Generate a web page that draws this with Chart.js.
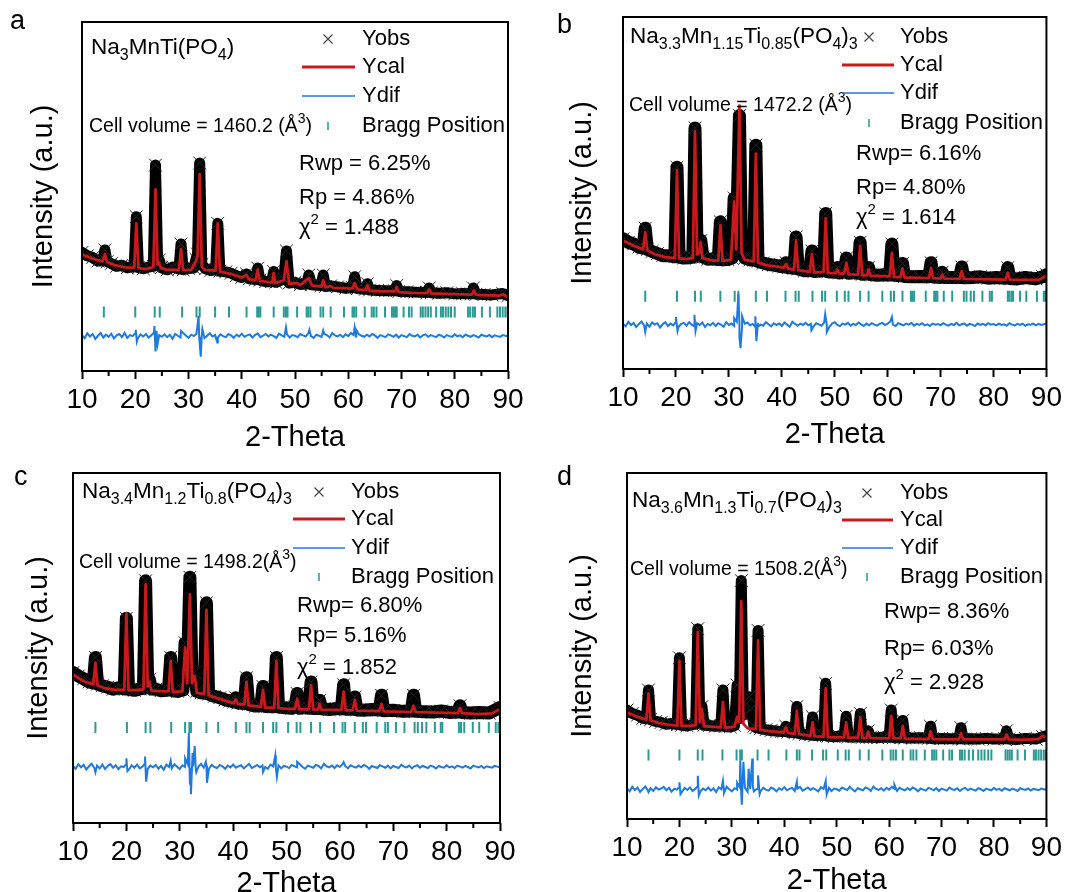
<!DOCTYPE html>
<html>
<head>
<meta charset="utf-8">
<script src="https://cdn.jsdelivr.net/npm/chart.js@4.4.1/dist/chart.umd.min.js"></script>
<style>
  html, body { margin: 0; padding: 0; background: #fff; overflow: hidden; }
  #wrap { position: relative; width: 1066px; height: 892px; }
  canvas { position: absolute; }
</style>
</head>
<body>
<div id="wrap">
  <canvas id="ca" width="533" height="470" style="left:0;top:0"></canvas>
  <canvas id="cb" width="533" height="470" style="left:533px;top:0"></canvas>
  <canvas id="cc" width="533" height="470" style="left:0;top:446px"></canvas>
  <canvas id="cd" width="533" height="470" style="left:533px;top:446px"></canvas>
</div>
<script>
// 2-theta axis
const xMin = 10, xMax = 90;
const minorTicks = [15, 25, 35, 45, 55, 65, 75, 85];
// difference curves are sampled every 0.5 deg from 10 to 90
const difStart = 10, difStep = 0.5;

// ---------- panel a : Na3MnTi(PO4) ----------
const calA = [[10,33.4],[12,32.2],[13.9,31.4],[14.3,33.5],[14.7,31.2],[16,30.4],[18,29.7],[19.8,29.6],[20.2,42.3],[20.6,29.5],[22,29.2],[23.4,29.8],[23.8,52],[24.2,30.5],[24.5,31],[24.8,29.5],[26,29],[28.2,29],[28.6,35],[29,28.9],[30.5,29],[31.4,31.5],[31.7,33],[32.1,56.4],[32.5,30],[33,29],[35.1,28.8],[35.5,42.3],[35.9,28.5],[37.4,28],[38,27.8],[40,26.8],[40.9,27.5],[41.3,26.3],[42.6,26],[43,29],[43.4,25.8],[45.7,25.3],[46,28],[46.3,25.2],[47.9,26],[48.4,31.5],[48.9,25],[50.4,25.2],[51,24.6],[52.6,26.6],[53.2,24.5],[55,24.2],[55.3,26],[55.7,24],[56.7,24.3],[57.2,23.8],[60.8,23.6],[61.2,25.2],[61.7,23.4],[63.3,23.2],[63.6,24.5],[64,23],[66,22.8],[68.8,22.8],[69.1,24],[69.5,22.6],[72,22.4],[74.8,22.3],[75.2,23.3],[75.6,22.2],[80,22],[83.2,21.9],[83.6,23],[84,21.8],[86,21.7],[88.5,21.6],[89,22],[90,21.2]];
const obsA = [[10,34],[11,33],[12,32.5],[13,31.5],[13.9,31.6],[14.3,34.7],[14.7,31.3],[15.5,30.8],[16.5,30],[17.5,30.3],[18.5,29.6],[19.8,29.9],[20.2,44.2],[20.6,29.6],[21.5,29.3],[22.5,29.8],[23.4,30],[23.8,59],[24.2,31],[24.5,31.8],[24.9,29.6],[26,29],[27,29.8],[28.2,29.2],[28.6,36.4],[29,29],[30,29.4],[31,29.5],[31.4,32],[31.7,33.5],[32.1,59.6],[32.5,30.5],[33.2,29.3],[34.2,28.8],[35.1,29],[35.5,42.3],[35.9,28.6],[37,28.4],[38,28],[39,27.3],[40,26.8],[40.9,27.8],[41.4,26.4],[42.6,26.2],[43,29.5],[43.4,26],[44.5,25.6],[45.6,25.6],[46,28.5],[46.4,25.4],[47.9,26.4],[48.4,34.4],[48.9,25.2],[50,25.4],[51,24.8],[52.2,25],[52.6,27.5],[53.1,24.7],[54.9,24.5],[55.3,27.5],[55.7,24.2],[56.7,24.4],[58,24.1],[59.5,23.7],[60.8,23.9],[61.2,27],[61.7,23.6],[63.2,23.4],[63.6,25],[64,23.2],[65.5,23.1],[67,23],[68.7,23],[69.1,24.5],[69.5,22.8],[71,22.7],[72.5,22.6],[74.8,22.5],[75.2,23.8],[75.6,22.4],[77,22.3],[78.5,22.4],[80,22.1],[81.5,22.2],[83.1,22.1],[83.5,23.8],[84,22],[85.5,21.9],[87,21.8],[89,22.2],[90,21.6]];
const difA = [10.3,9.4,10.8,9.9,10.6,9.2,10.1,10.9,9.6,10.4,9.8,10.7,9.3,10.2,10.6,9.7,10.9,9.5,10.3,10.0,
  10.8,9.4,10.5,9.9,10.6,9.6,10.2,11.0,9.5,10.3,9.8,10.5,9.7,10.4,9.2,10.6,10.1,9.6,10.9,10.2,
  9.5,10.4,10.0,10.7,9.8,10.3,9.4,10.1,10.8,9.9,10.3,9.6,10.5,10.0,9.7,10.6,10.2,9.5,10.4,9.9,
  10.7,9.8,10.2,10.5,9.6,10.3,10.8,9.7,10.1,10.6,9.9,10.4,10.0,9.5,10.7,10.2,9.8,10.5,9.6,10.3,
  10.1,9.7,10.6,10.2,9.9,10.8,10.0,9.5,10.4,10.1,9.8,10.6,10.3,9.6,10.9,10.2,9.9,10.4,9.7,10.5,
  10.0,10.9,10.3,9.6,10.5,10.1,9.8,10.4,9.9,10.6,10.2,9.5,10.3,10.0,9.7,10.5,10.2,9.8,10.4,9.6,
  10.3,10.0,9.7,10.6,10.1,9.9,10.4,9.6,10.2,10.5,9.8,10.3,10.0,9.7,10.4,10.1,9.6,10.3,10.0,9.8,
  10.5,9.9,10.2,9.7,10.4,10.1,9.8,10.3,10.0,9.6,10.4,10.1,9.9,10.3,9.7,10.2,10.0,9.8,10.3,10.1,
  9.9];
const spikesA = [[20.1,11.8],[20.3,8.4],[23.6,12.9],[23.8,5.6],[24.0,11.5],[24.2,7.8],[28.6,11.5],[31.9,15.8],[32.1,8],[32.3,4.1],[32.6,12],[35.4,8.2],[48.3,12.5],[52.7,11.8],[55.3,11.6],[61.2,12.5],[61.5,11.8]];
const braggA = [14.1,20.0,23.65,24.6,28.8,31.5,32.1,35.0,37.6,40.9,42.9,43.2,43.5,46.0,47.9,48.3,48.6,50.4,52.2,52.5,52.9,54.8,55.3,56.7,59.2,60.8,61.1,61.5,63.1,64.4,64.8,65.3,66.9,68.2,68.5,68.8,69.1,70.4,71.4,71.9,73.6,74.0,74.5,75.0,75.5,76.5,77.4,77.8,78.3,78.8,79.3,80.0,82.5,82.9,83.4,83.8,85.1,86.6,88.0,88.5,89.0,89.5,89.9];
const braggLevelA = 16.9;

// ---------- panel b : Na3.3Mn1.15Ti0.85(PO4)3 ----------
const calB = [[10,36.5],[12,35],[13.8,34],[14.2,38.9],[14.6,33.7],[16,32.6],[18,31.8],[19.8,31.5],[20.2,56.4],[20.6,31.4],[22,31.2],[23.2,31.5],[23.6,67.5],[24.0,32.5],[24.4,33],[24.7,36],[25.0,31.5],[27,30.8],[28.0,30.8],[28.4,40.9],[28.8,30.7],[30.4,31],[31.0,47.6],[31.4,34],[32.0,74.8],[32.4,33],[33,31],[34.7,30.6],[35.1,61.2],[35.5,30.3],[37,29.5],[40.4,28.8],[40.8,29.8],[41.2,28.5],[42.3,28.2],[42.7,36.5],[43.1,28.1],[45.3,27.6],[45.7,32.6],[46.1,27.4],[47.9,27.6],[48.3,42.8],[48.7,27.3],[50.2,27.2],[50.5,28.2],[50.9,27],[51.8,27.2],[52.2,30.2],[52.6,26.9],[54.4,26.8],[54.8,35],[55.2,26.6],[56.1,26.6],[56.4,28.3],[56.8,26.5],[60.4,26.3],[60.8,33],[61.2,26.2],[62.4,26.1],[62.8,28.6],[63.2,26],[67.8,25.8],[68.2,28.7],[68.6,25.8],[70,25.7],[70.3,26.8],[70.7,25.7],[73.6,25.6],[74.0,27.8],[74.4,25.6],[82.3,25.4],[82.7,27.3],[83.1,25.4],[86,25.3],[88.5,25.3],[89.3,25.9],[90,26.5]];
const obsB = [[10,37],[11,36],[12,35.5],[13,34.6],[13.8,34.3],[14.2,40],[14.6,34],[15.5,33.4],[16.5,32.8],[17.5,32.2],[18.5,32.2],[19.8,31.9],[20.2,57.3],[20.6,31.8],[21.5,31.5],[22.5,31.6],[23.2,31.8],[23.6,68.5],[24.0,33],[24.4,33.5],[24.7,36.5],[25.1,31.8],[26,31.2],[27,31.3],[28.0,31.1],[28.4,41.8],[28.8,31],[29.8,31.1],[30.6,31.5],[31.0,48.6],[31.4,35],[32.0,72],[32.4,34],[33,31.5],[34,31],[34.7,31],[35.1,63.6],[35.5,30.6],[36.5,30.1],[37.5,29.7],[38.5,29.5],[39.5,29.2],[40.4,29],[40.8,30.2],[41.2,28.8],[42.3,28.6],[42.7,37.5],[43.1,28.4],[44.3,27.9],[45.3,28],[45.7,33.5],[46.1,27.7],[47.9,28],[48.3,44.2],[48.7,27.6],[50.1,27.5],[50.5,28.8],[50.9,27.3],[51.8,27.6],[52.2,31.5],[52.6,27.2],[53.5,27.4],[54.4,27.2],[54.8,36],[55.2,26.9],[56.1,27],[56.4,28.8],[56.8,26.8],[58,26.6],[59.3,26.8],[60.4,26.7],[60.8,35.5],[61.2,26.6],[62.4,26.5],[62.8,30],[63.2,26.3],[64.5,26.2],[66,26.3],[67.8,26.2],[68.2,30.2],[68.6,26.1],[70,26],[70.3,27.5],[70.7,26],[72,26],[73.6,26],[74,29],[74.4,25.9],[76,26],[77.5,26.2],[79,25.8],[80.5,26],[82.3,25.8],[82.7,28.8],[83.1,25.7],[84.5,25.6],[86,26],[88,25.6],[89.3,26.2],[90,26.8]];
const difB = [12.9,12.1,13.4,12.5,13.1,11.9,12.8,13.5,12.3,12.9,12.0,13.2,12.6,13.0,11.8,12.7,13.3,12.2,12.9,12.4,
  13.4,12.0,12.8,13.1,12.3,13.3,12.6,12.1,13.0,12.5,13.2,11.9,12.8,12.4,13.1,12.2,13.0,12.6,12.0,13.3,
  12.5,12.9,12.2,13.4,12.7,12.1,12.9,13.2,12.4,12.8,11.9,13.1,12.6,12.3,13.3,12.7,12.1,13.0,12.5,12.9,
  12.2,13.2,12.6,12.0,13.4,12.8,12.3,12.9,12.5,13.1,12.4,12.8,12.1,13.0,12.7,12.3,13.2,12.6,12.0,12.9,
  13.3,12.5,12.2,12.9,12.6,13.1,12.3,12.8,12.5,13.2,12.7,12.2,12.9,12.4,13.0,12.6,12.3,12.8,13.1,12.5,
  12.9,13.5,12.6,12.2,13.0,12.7,12.4,12.9,12.6,13.1,12.3,12.8,12.5,13.0,12.4,12.7,12.2,12.9,12.6,12.8,
  12.4,13.0,12.6,12.3,12.8,12.5,13.1,12.4,12.7,12.9,12.3,12.8,12.6,12.2,12.9,12.5,12.8,12.4,13.0,12.6,
  12.8,12.4,12.9,12.5,12.7,12.3,13.0,12.6,12.4,12.8,12.5,12.9,12.3,12.7,12.6,12.9,12.4,12.8,12.5,12.7,
  12.9];
const spikesB = [[14.2,10.5],[20.0,14.8],[20.3,10.8],[23.5,15.4],[23.7,10.8],[31.0,14.5],[31.8,21.4],[32.0,9],[32.2,5.9],[32.5,15],[35.0,15],[35.2,7.9],[35.5,12],[45.6,11],[48.2,15.6],[48.5,10.5],[60.8,14.8]];
const braggB = [14.2,20.2,23.6,24.7,28.4,31.1,31.8,35.1,37.2,40.7,42.6,43.2,45.8,47.6,48.2,50.4,51.9,52.6,54.8,56.4,59.0,60.6,61.2,62.8,64.4,64.7,65.0,67.2,68.8,69.1,69.4,70.6,72.2,74.4,74.9,75.7,76.3,77.9,79.3,79.7,82.7,83.0,83.4,83.7,85.0,86.2,88.2,89.5,89.8];
const braggLevelB = 20.7;

// ---------- panel c : Na3.4Mn1.2Ti0.8(PO4)3 ----------
const calC = [[10,42.4],[12,40.5],[13.8,39.6],[14.2,45.8],[14.6,39.3],[16,38.5],[18,38],[19.6,38],[20.0,59.9],[20.4,37.9],[22,38],[23.2,38.2],[23.6,68.2],[24.0,39],[24.3,40.4],[24.7,37.8],[26,37.7],[27.9,37.6],[28.3,46.3],[28.7,37.5],[30.5,37.6],[31.0,50.2],[31.4,40],[31.9,65.3],[32.3,40],[32.8,42],[33.2,37.2],[34.6,36.8],[35.0,60.9],[35.4,36.5],[37,35.7],[40.1,34.2],[40.5,35.3],[40.9,34],[42.1,33.8],[42.5,40.4],[42.9,33.6],[45.2,33.2],[45.6,38],[46,33],[47.7,32.9],[48.1,46.3],[48.5,32.8],[50,32.6],[51.6,32.6],[52.0,35.5],[52.4,32.5],[54.2,32.5],[54.6,39.4],[55,32.4],[55.9,32.4],[56.2,34.1],[56.6,32.3],[60.3,32.3],[60.7,37.5],[61.1,32.2],[62.4,32.2],[62.8,35.2],[63.2,32.1],[67.4,32],[67.8,34],[68.2,31.9],[73.4,31.7],[73.8,33.5],[74.2,31.7],[82.1,31.4],[82.5,32.8],[82.9,31.4],[86,31.1],[88.5,31.3],[90,32.6]];
const obsC = [[10,43],[11,42],[12,41.2],[13,40.3],[13.8,40],[14.2,47.3],[14.6,39.7],[15.5,39.2],[16.5,38.8],[17.5,38.2],[18.5,38.6],[19.6,38.3],[20.0,58.5],[20.4,38.2],[21.5,37.9],[22.5,38.3],[23.2,38.5],[23.6,69.2],[24.0,39.5],[24.3,41],[24.7,38.3],[25.5,38.2],[26.5,37.8],[27.9,38],[28.3,47.3],[28.7,37.8],[29.6,37.6],[30.6,38],[31.0,51.5],[31.4,41],[31.9,70.2],[32.3,41],[32.8,43],[33.2,37.6],[34,37.2],[34.6,37.1],[35.0,62.9],[35.4,36.8],[36.5,36.2],[37.5,35.8],[38.5,35.2],[39.4,34.9],[40.1,34.6],[40.5,35.8],[40.9,34.3],[42.1,34.1],[42.5,41.5],[42.9,33.9],[44.2,33.4],[45.2,33.5],[45.6,39],[46,33.3],[47.7,33.2],[48.1,47.3],[48.5,33.1],[49.8,32.9],[51,32.8],[51.6,33.2],[52.0,37],[52.4,32.8],[53.4,33],[54.2,32.8],[54.6,40.3],[55,32.7],[55.9,32.7],[56.2,35],[56.6,32.6],[58,32.4],[59.3,32.7],[60.3,32.6],[60.7,39.5],[61.1,32.5],[62.4,32.5],[62.8,36],[63.2,32.3],[64.5,32.2],[66,32.4],[67.4,32.3],[67.8,36.5],[68.2,32.1],[70,32.2],[71.8,31.9],[73.4,32],[73.8,36.5],[74.2,31.9],[76,31.8],[77.5,31.7],[79,32],[80.5,31.6],[82.1,31.7],[82.5,33.5],[82.9,31.6],[84.5,31.4],[86,31.6],[88,31.4],[90,33]];
const difC = [16.3,15.5,16.8,15.9,16.6,15.3,16.2,16.9,15.7,16.4,15.6,16.7,15.4,16.3,16.8,15.8,16.5,15.4,16.2,16.0,
  16.9,15.3,16.5,15.8,16.7,15.6,16.1,17.0,15.5,16.4,15.9,16.6,15.5,16.3,15.2,16.7,16.0,15.6,16.8,16.1,
  15.4,16.5,16.0,16.8,15.7,16.2,15.4,16.1,16.9,15.8,16.4,15.6,16.6,16.0,15.7,16.6,16.2,15.5,16.4,15.9,
  16.7,15.8,16.2,16.5,15.6,16.3,16.9,15.7,16.1,16.6,15.9,16.4,16.0,15.5,16.7,16.2,15.8,16.5,15.6,16.3,
  16.1,15.7,16.6,16.2,15.9,16.8,16.0,15.5,16.4,16.1,15.8,16.6,16.3,15.6,16.9,16.2,15.9,16.4,15.7,16.5,
  16.0,16.8,16.3,15.6,16.5,16.1,15.8,16.4,15.9,16.6,16.2,15.5,16.3,16.0,15.7,16.5,16.2,15.8,16.4,15.6,
  16.3,16.0,15.7,16.6,16.1,15.9,16.4,15.6,16.2,16.5,15.8,16.3,16.0,15.7,16.4,16.1,15.6,16.3,16.0,15.8,
  16.5,15.9,16.2,15.7,16.4,16.1,15.8,16.3,16.0,15.6,16.4,16.1,15.9,16.3,15.7,16.2,16.0,15.8,16.3,16.1,
  15.9];
const spikesC = [[14.2,14.5],[20.0,18.5],[20.2,14.8],[23.5,19],[23.7,11.8],[28.3,17.8],[31.0,18.5],[31.7,25.8],[31.9,11],[32.1,8.2],[32.4,20],[32.8,22],[33.1,14.5],[34.9,17.5],[35.1,11.5],[35.4,14.8],[45.6,14.6],[47.9,19.3],[48.2,13.2],[52.0,17.5],[60.7,17.4]];
const braggC = [14.2,20.1,23.6,24.5,28.4,31.0,31.8,32.1,35.0,37.2,40.5,42.5,43.1,45.6,47.5,48.1,50.3,51.9,52.6,54.6,56.3,58.9,60.5,61.0,62.8,64.3,64.9,66.9,68.5,69.0,70.5,72.1,74.0,74.6,75.4,76.2,77.8,78.9,79.2,82.3,82.7,83.3,84.9,86.1,87.9,89.2,89.7];
const braggLevelC = 27.3;

// ---------- panel d : Na3.6Mn1.3Ti0.7(PO4)3 ----------
const calD = [[10,30.8],[12,29.5],[13.7,28.7],[14.1,36.3],[14.5,28.5],[16,27.8],[18,27.2],[19.6,27],[20.0,45.7],[20.4,26.9],[22,26.9],[23.1,27.1],[23.5,54.1],[23.9,28],[24.3,31.8],[24.7,26.8],[26,26.7],[27.9,26.5],[28.3,33.8],[28.7,26.4],[30.5,26.6],[31.0,29.5],[31.4,28],[31.8,62.9],[32.2,27.5],[33,26.2],[34.6,26],[35.0,51.6],[35.4,25.8],[37,25.4],[39.9,25],[40.3,26.5],[40.7,24.9],[42.0,24.6],[42.4,31.3],[42.8,24.5],[45.0,24],[45.4,27.9],[45.8,23.9],[47.5,23.8],[47.9,37.8],[48.3,23.7],[50,23.6],[51.4,23.6],[51.8,27.9],[52.2,23.5],[54.1,23.5],[54.5,29.4],[54.9,23.4],[55.7,23.4],[56,25.2],[56.4,23.4],[60,23.3],[60.4,29.8],[60.8,23.3],[62.2,23.3],[62.6,26.9],[63,23.2],[67.5,23.1],[67.9,25.4],[68.3,23.1],[73.3,23],[73.7,24.9],[74.1,23],[82,23],[82.4,24.4],[82.8,23],[86,22.9],[88.5,23.1],[89.3,24],[90,23.6]];
const obsD = [[10,31.5],[11,30.5],[12,30],[13,29.1],[13.7,29],[14.1,37.3],[14.5,28.7],[15.5,28.2],[16.5,27.9],[17.5,27.4],[18.5,27.6],[19.6,27.3],[20.0,46.6],[20.4,27.1],[21.5,26.9],[22.5,27.3],[23.1,27.4],[23.5,55],[23.9,28.5],[24.3,32.5],[24.7,27.1],[25.7,27],[26.8,26.8],[27.9,26.9],[28.3,37.3],[28.7,26.7],[29.7,26.6],[30.5,27],[31.0,38.7],[31.4,29],[31.8,68.9],[32.2,30],[32.6,33],[33.3,35.3],[33.8,32],[34.2,26.8],[34.6,26.4],[35.0,54.5],[35.4,26.1],[36.5,25.8],[37.5,25.6],[38.5,25.4],[39.5,25.3],[39.9,25.3],[40.3,26.8],[40.7,25.1],[42.0,24.9],[42.4,32.5],[42.8,24.7],[44,24.4],[45.0,24.3],[45.4,29.5],[45.8,24.1],[47.5,24.1],[47.9,39.2],[48.3,23.9],[49.5,23.8],[50.5,23.9],[51.4,23.9],[51.8,29.7],[52.2,23.7],[53.3,23.8],[54.1,23.7],[54.5,30.5],[54.9,23.6],[55.7,23.6],[56,25.5],[56.4,23.6],[57.8,23.5],[59,23.7],[60,23.6],[60.4,31.5],[60.8,23.5],[62.2,23.5],[62.6,28.5],[63,23.4],[64.5,23.4],[66,23.5],[67.5,23.3],[67.9,26.8],[68.3,23.2],[70,23.3],[71.7,23.2],[73.3,23.2],[73.7,26.4],[74.1,23.1],[75.5,23.2],[77,23.1],[78.5,23.3],[80,23.1],[82,23.2],[82.4,25.5],[82.8,23.1],[84.5,23],[86,23.3],[88,23.1],[89.3,23.8],[90,24]];
const difD = [8.8,8.0,9.3,8.4,9.1,7.8,8.7,9.4,8.2,8.9,8.1,9.2,8.5,8.8,9.3,8.3,9.0,7.9,8.7,8.5,
  9.3,7.9,9.0,8.4,9.1,8.1,8.7,9.5,8.0,8.8,8.3,9.1,8.2,8.9,7.8,9.2,8.6,8.1,9.3,8.6,
  8.0,8.9,8.5,9.2,8.3,8.8,7.9,8.6,9.3,8.4,8.8,8.1,9.0,8.5,8.2,9.1,8.7,8.0,8.9,8.4,
  9.2,8.3,8.7,9.0,8.1,8.8,9.3,8.2,8.6,9.1,8.4,8.9,8.5,8.0,9.2,8.7,8.3,9.0,8.1,8.8,
  8.6,8.2,9.1,8.7,8.4,9.3,8.5,8.0,8.9,8.6,8.3,9.1,8.8,8.1,9.4,8.7,8.4,8.9,8.2,9.0,
  8.5,9.3,8.8,8.1,9.0,8.6,8.3,8.9,8.4,9.1,8.7,8.0,8.8,8.5,8.2,9.0,8.7,8.3,8.9,8.1,
  8.8,8.5,8.2,9.1,8.6,8.4,8.9,8.1,8.7,9.0,8.3,8.8,8.5,8.2,8.9,8.6,8.1,8.8,8.5,8.3,
  9.0,8.4,8.7,8.2,8.9,8.6,8.3,8.8,8.5,8.1,8.9,8.6,8.4,8.8,8.2,8.7,8.5,8.3,8.8,8.6,
  8.4];
const spikesD = [[14.1,7.8],[20.0,10.6],[20.2,7.2],[23.5,12.5],[23.7,6.8],[28.3,11],[28.5,7.5],[31.0,10.5],[31.6,17],[31.8,7],[31.9,4.1],[32.2,16.5],[32.5,9],[33.2,14.5],[33.5,9],[33.9,17.5],[34.2,8],[35.0,12.6],[35.3,7.2],[42.4,10.8],[47.9,11],[48.1,7.2],[61.0,9.9]];
const braggD = [14.1,20.0,23.5,24.4,28.2,30.9,31.6,31.9,34.9,37.0,40.4,42.4,42.9,45.3,47.4,48.0,50.2,51.7,52.3,54.4,56.1,58.7,60.3,60.8,61.3,62.6,64.1,64.6,65.2,66.8,68.2,68.6,69.0,70.3,71.5,72.0,73.5,73.9,74.4,75.2,76.0,77.0,77.6,78.2,78.9,79.5,82.2,82.6,83.0,83.4,84.5,85.9,87.6,88.0,88.5,89.0,89.5,89.9];
const braggLevelD = 18.5;

const COLORS = { obs: '#000000', cal: '#c8191c', dif: '#1f7ae0', bragg: '#2a9a92' };
const FONT = '"Liberation Sans", Arial, sans-serif';
Chart.defaults.font.family = FONT;
Chart.defaults.color = '#000';

const panels = [
  {
    canvas: 'ca', letter: 'a', cal: calA, obs: obsA, dif: difA, spikes: spikesA, bragg: braggA, braggLevel: braggLevelA,
    formula: [['Na', 0], ['3', -1], ['MnTi(PO', 0], ['4', -1], [')', 0]],
    cell: 'Cell volume = 1460.2 (Å',
    stats: ['Rwp = 6.25%', 'Rp = 4.86%', ' = 1.488'],
    box: { left: 82, top: 22, right: 25, xH: 99 }, xTitlePad: 18, yTitlePad: 29, obsW: 11,
    letterAt: [10, 22],
    at: { formula: [9, 26], mark: 246, text: 280, line: [220, 273], rows: [17, 45, 74, 104], cell: [7, 105], stats: [217, 142, 176, 206] }
  },
  {
    canvas: 'cb', letter: 'b', cal: calB, obs: obsB, dif: difB, spikes: spikesB, bragg: braggB, braggLevel: braggLevelB,
    formula: [['Na', 0], ['3.3', -1], ['Mn', 0], ['1.15', -1], ['Ti', 0], ['0.85', -1], ['(PO', 0], ['4', -1], [')', 0], ['3', -1]],
    cell: 'Cell volume = 1472.2 (Å',
    stats: ['Rwp= 6.16%', 'Rp= 4.80%', ' = 1.614'],
    box: { left: 90, top: 17, right: 16, xH: 101 }, xTitlePad: 21, yTitlePad: 35, obsW: 13,
    letterAt: [24, 26],
    at: { formula: [7, 20], mark: 246, text: 277, line: [219, 271], rows: [20, 48, 76, 106], cell: [6, 89], stats: [233, 137, 171, 201] }
  },
  {
    canvas: 'cc', letter: 'c', cal: calC, obs: obsC, dif: difC, spikes: spikesC, bragg: braggC, braggLevel: braggLevelC,
    formula: [['Na', 0], ['3.4', -1], ['Mn', 0], ['1.2', -1], ['Ti', 0], ['0.8', -1], ['(PO', 0], ['4', -1], [')', 0], ['3', -1]],
    cell: 'Cell volume = 1498.2(Å',
    stats: ['Rwp= 6.80%', 'Rp= 5.16%', ' = 1.852'],
    box: { left: 73, top: 27, right: 33, xH: 93 }, xTitlePad: 18, yTitlePad: 24, obsW: 13,
    letterAt: [14, 32],
    at: { formula: [9, 19], mark: 246, text: 278, line: [220, 272], rows: [19, 46, 75, 104], cell: [6, 90], stats: [224, 133, 163, 195] }
  },
  {
    canvas: 'cd', letter: 'd', cal: calD, obs: obsD, dif: difD, spikes: spikesD, bragg: braggD, braggLevel: braggLevelD,
    formula: [['Na', 0], ['3.6', -1], ['Mn', 0], ['1.3', -1], ['Ti', 0], ['0.7', -1], ['(PO', 0], ['4', -1], [')', 0], ['3', -1]],
    cell: 'Cell volume = 1508.2(Å',
    stats: ['Rwp= 8.36%', 'Rp= 6.03%', ' = 2.928'],
    box: { left: 94, top: 27, right: 17, xH: 97 }, xTitlePad: 21, yTitlePad: 35, obsW: 11,
    letterAt: [24, 32],
    at: { formula: [5, 28], mark: 240, text: 273, line: [215, 266], rows: [20, 47, 75, 104], cell: [3, 97], stats: [257, 139, 176, 210] }
  }
];

function toXY(pairs) {
  return pairs.map(([x, y]) => ({ x, y }));
}

function difPoints(values, spikes) {
  const pts = values.map((y, i) => ({ x: difStart + i * difStep, y }));
  spikes.forEach(([x, y]) => pts.push({ x, y }));
  return pts.sort((a, b) => a.x - b.x);
}

// text with sub (-1) / superscript (1) parts
function drawRich(ctx, parts, x, y, size) {
  ctx.textAlign = 'left';
  ctx.textBaseline = 'middle';
  parts.forEach(([t, m]) => {
    const s = m === 0 ? size : Math.round(size * 0.7);
    ctx.font = s + 'px ' + FONT;
    const dy = m === -1 ? size * 0.32 : m === 1 ? -size * 0.38 : 0;
    ctx.fillText(t, x, y + dy);
    x += ctx.measureText(t).width;
  });
}

function decoPlugin(p) {
  return {
    id: 'deco',
    afterDraw(chart) {
      const { ctx, chartArea: a, scales: { x } } = chart;
      const at = p.at;
      const L = a.left, T = a.top;
      ctx.save();
      // frame
      ctx.strokeStyle = '#000';
      ctx.lineWidth = 2;
      ctx.strokeRect(a.left, a.top, a.right - a.left, a.bottom - a.top);
      // minor ticks
      ctx.beginPath();
      minorTicks.forEach(v => {
        const px = x.getPixelForValue(v);
        ctx.moveTo(px, a.bottom);
        ctx.lineTo(px, a.bottom + 5);
      });
      ctx.stroke();

      ctx.fillStyle = '#000';
      // panel letter
      ctx.font = '27px ' + FONT;
      ctx.textBaseline = 'middle';
      ctx.fillText(p.letter, p.letterAt[0], p.letterAt[1]);

      drawRich(ctx, p.formula, L + at.formula[0], T + at.formula[1], 22.5);
      drawRich(ctx, [[p.cell, 0], ['3', 1], [')', 0]], L + at.cell[0], T + at.cell[1], 19.5);
      drawRich(ctx, [[p.stats[0], 0]], L + at.stats[0], T + at.stats[1], 22);
      drawRich(ctx, [[p.stats[1], 0]], L + at.stats[0], T + at.stats[2], 22);
      drawRich(ctx, [['χ', 0], ['2', 1], [p.stats[2], 0]], L + at.stats[0], T + at.stats[3], 22);

      // legend
      const r = at.rows.map(v => T + v);
      const mx = L + at.mark;
      ctx.strokeStyle = '#444';
      ctx.lineWidth = 1.2;
      ctx.beginPath();
      ctx.moveTo(mx - 4.5, r[0] - 4.5); ctx.lineTo(mx + 4.5, r[0] + 4.5);
      ctx.moveTo(mx + 4.5, r[0] - 4.5); ctx.lineTo(mx - 4.5, r[0] + 4.5);
      ctx.stroke();
      ctx.strokeStyle = COLORS.cal;
      ctx.lineWidth = 3;
      ctx.beginPath(); ctx.moveTo(L + at.line[0], r[1]); ctx.lineTo(L + at.line[1], r[1]); ctx.stroke();
      ctx.strokeStyle = COLORS.dif;
      ctx.lineWidth = 1.5;
      ctx.beginPath(); ctx.moveTo(L + at.line[0], r[2]); ctx.lineTo(L + at.line[1], r[2]); ctx.stroke();
      ctx.strokeStyle = COLORS.bragg;
      ctx.lineWidth = 1.5;
      ctx.beginPath(); ctx.moveTo(mx, r[3] - 4); ctx.lineTo(mx, r[3] + 4); ctx.stroke();
      ['Yobs', 'Ycal', 'Ydif', 'Bragg Position'].forEach((t, i) => {
        drawRich(ctx, [[t, 0]], L + at.text, r[i], 22);
      });
      ctx.restore();
    }
  };
}

panels.forEach(p => {
  const ctx = document.getElementById(p.canvas).getContext('2d');
  new Chart(ctx, {
    type: 'line',
    data: {
      datasets: [
        {
          label: 'Ycal',
          data: toXY(p.cal),
          borderColor: COLORS.cal,
          borderWidth: 2.8,
          borderJoinStyle: 'round',
          pointRadius: 0,
          order: 1
        },
        {
          label: 'Yobs',
          data: toXY(p.obs),
          borderColor: COLORS.obs,
          borderWidth: p.obsW,
          borderJoinStyle: 'round',
          borderCapStyle: 'round',
          pointStyle: 'crossRot',
          pointRadius: 9,
          pointBorderWidth: 1,
          pointBorderColor: '#222',
          order: 2
        },
        {
          label: 'Ydif',
          data: difPoints(p.dif, p.spikes),
          borderColor: COLORS.dif,
          borderWidth: 2,
          pointRadius: 0,
          order: 3
        },
        {
          label: 'Bragg Position',
          data: p.bragg.map(v => ({ x: v, y: p.braggLevel })),
          showLine: false,
          pointStyle: 'line',
          rotation: 90,
          pointRadius: 5.5,
          pointBorderWidth: 2,
          pointBorderColor: COLORS.bragg,
          order: 4
        }
      ]
    },
    options: {
      responsive: false,
      animation: false,
      events: [],
      layout: { padding: { left: 0, top: p.box.top, right: p.box.right, bottom: 0 } },
      plugins: { legend: { display: false }, tooltip: { enabled: false } },
      scales: {
        x: {
          type: 'linear',
          min: xMin,
          max: xMax,
          afterFit: s => { s.height = p.box.xH; },
          border: { display: false },
          grid: { drawOnChartArea: false, tickLength: 8, tickWidth: 2, tickColor: '#000' },
          ticks: { stepSize: 10, autoSkip: false, maxRotation: 0, padding: 4, font: { size: 28 }, color: '#000' },
          title: { display: true, text: '2-Theta', font: { size: 29, lineHeight: 1 }, color: '#000', padding: { top: 0, bottom: p.xTitlePad } }
        },
        y: {
          type: 'linear',
          min: 0,
          max: 100,
          afterFit: s => { s.width = p.box.left; },
          border: { display: false },
          grid: { display: false },
          ticks: { display: false },
          title: { display: true, text: 'Intensity (a.u.)', font: { size: 29, lineHeight: 1 }, color: '#000', padding: { top: p.yTitlePad, bottom: 0 } }
        }
      }
    },
    plugins: [decoPlugin(p)]
  });
});
</script>
</body>
</html>
